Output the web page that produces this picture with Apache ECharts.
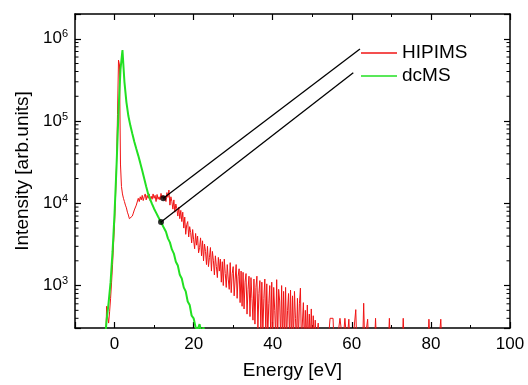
<!DOCTYPE html>
<html><head><meta charset="utf-8">
<script src="https://cdn.jsdelivr.net/npm/echarts@6/dist/echarts.min.js"></script>
<style>html,body{margin:0;padding:0;background:#fff}#c{width:528px;height:385px}</style>
</head><body><div id="c"></div>
<script>
// ---- data ----
const FONT = "'Liberation Sans', Arial, Helvetica, sans-serif";
const seriesNames = ['HIPIMS', 'dcMS'];
// HIPIMS: sampled every 0.25 eV from -2.5 eV to 85.0 eV
const hipimsStart = -2.5, hipimsStep = 0.25;
const hipims = [
  150, 200, 560, 420, 350, 480, 700, 1100, 1800, 3200, 5500, 1.2e4, 3.0e4, 1.2e5, 5.5e5, 4.8e5, 3.0e4, 1.6e4, 1.3e4, 1.15e4,
  1.05e4, 9500, 8800, 7800, 7200, 6500, 6800, 6300, 7000, 7600, 8300, 8000, 9500, 1.0e4, 1.15e4, 1.05e4, 1.2e4, 1.1e4, 1.25e4, 1.08e4,
  1.2e4, 1.3e4, 1.1e4, 1.25e4, 1.15e4, 1.3e4, 1.08e4, 1.22e4, 1.12e4, 1.3e4, 1.15e4, 1.25e4, 1.05e4, 1.28e4, 1.12e4, 1.2e4, 1.1e4, 1.32e4, 1.15e4, 1.25e4,
  1.1e4, 1.22e4, 1.05e4, 1.35e4, 1.18e4, 1.45e4, 9500, 1.2e4, 1.05e4, 8500, 1.1e4, 7800, 9800, 8600, 7000, 9000, 6500, 8200, 6000, 7800,
  5000, 6800, 4200, 5500, 6000, 3900, 5200, 4400, 3300, 4800, 3600, 2800, 4300, 3100, 4000, 2500, 2900, 3800, 2300, 3500,
  2000, 3200, 2600, 1800, 3000, 1700, 2200, 2900, 1500, 2600, 2000, 1350, 2300, 1700, 1250, 2200, 1500, 2100, 1100, 1950,
  1000, 2100, 1400, 950, 1800, 1200, 900, 1900, 820, 1400, 1700, 750, 1200, 1800, 700, 1300, 1600, 620, 1500, 560,
  1450, 520, 1100, 1400, 450, 900, 1300, 420, 1250, 700, 380, 1200, 340, 950, 1300, 300, 800, 1150, 280, 1100,
  260, 700, 1200, 250, 1050, 240, 600, 1000, 230, 1100, 220, 950, 500, 240, 1180, 220, 900, 650, 230, 1000,
  210, 850, 220, 950, 210, 500, 800, 220, 880, 200, 750, 210, 850, 400, 200, 700, 220, 600, 930, 200,
  200, 620, 200, 500, 200, 580, 200, 450, 200, 520, 200, 430, 200, 380, 200, 200, 350, 200, 200, 200,
  200, 200, 200, 200, 200, 200, 200, 200, 400, 400, 400, 400, 200, 200, 200, 200, 200, 200, 400, 400,
  400, 200, 200, 400, 400, 200, 200, 390, 200, 200, 200, 200, 200, 200, 510, 200, 200, 200, 200, 200,
  200, 200, 610, 200, 200, 200, 390, 200, 200, 200, 200, 200, 200, 200, 400, 200, 200, 200, 200, 200,
  200, 200, 200, 200, 200, 200, 200, 200, 400, 200, 200, 200, 200, 200, 200, 200, 200, 200, 200, 200,
  200, 200, 400, 200, 200, 200, 200, 200, 200, 200, 200, 200, 200, 200, 200, 200, 200, 200, 200, 200,
  200, 200, 200, 200, 200, 200, 200, 200, 390, 200, 200, 200, 200, 200, 200, 200, 200, 200, 200, 200,
  390, 200, 200, 200, 200, 200, 200, 200, 200, 200, 200
];
// dcMS: sampled every 0.5 eV from -2.5 eV to 24.5 eV
const dcmsStart = -2.5, dcmsStep = 0.5;
const dcms = [
  200, 380, 620, 1100, 2600, 7500, 2.8e4, 1.3e5, 4.2e5, 7.3e5,
  3.0e5, 1.7e5, 1.15e5, 8.8e4, 7.0e4, 5.6e4, 4.6e4, 3.8e4, 3.1e4, 2.5e4,
  2.0e4, 1.6e4, 1.3e4, 1.12e4, 9800, 8600, 7700, 6900, 6200, 5600,
  5000, 4500, 3750, 3350, 2750, 2450, 1950, 1750, 1350, 1220,
  950, 850, 640, 580, 430, 400, 310, 290, 340, 260,
  310, 240, 290, 200, 200
];
// annotation pointers: [point on curve, end next to legend]
const pointerHipims = [[12.33, 1.15e4], [62.06, 7.5e5]];
const pointerDcms = [[11.75, 5930], [60.37, 3.87e5]];
// axes
const xMin = -10, xMax = 100;
const yMin = 305, yMax = 2.0e6;
const yTickExponents = [3, 4, 5, 6];
const yMinorTicks = [400, 500, 600, 700, 800, 900,
  2000, 3000, 4000, 5000, 6000, 7000, 8000, 9000,
  2e4, 3e4, 4e4, 5e4, 6e4, 7e4, 8e4, 9e4,
  2e5, 3e5, 4e5, 5e5, 6e5, 7e5, 8e5, 9e5];

const toPairs = (arr, start, step) => arr.map((v, i) => [start + i * step, v]);

const chart = echarts.init(document.getElementById('c'), null, {renderer: 'canvas'});
const axisLine = {show: true, onZero: false, lineStyle: {color: '#000', width: 1.5}};
const tick = {show: true, inside: true, length: 6, lineStyle: {color: '#000', width: 1.2}};
const minor = {show: true, splitNumber: 2, length: 3, lineStyle: {color: '#000', width: 1}};

const option = {
  animation: false,
  backgroundColor: '#fff',
  grid: {left: 75, right: 18, top: 14, bottom: 53},
  legend: {
    data: seriesNames, orient: 'vertical', left: 356, top: 38,
    icon: 'rect', itemWidth: 36, itemHeight: 1.5, itemGap: 3,
    textStyle: {fontSize: 19, color: '#000', fontFamily: FONT, lineHeight: 20}
  },
  xAxis: [{
    type: 'value', min: xMin, max: xMax, splitNumber: 5, position: 'bottom',
    axisLine, axisTick: tick, minorTick: minor,
    splitLine: {show: false}, minorSplitLine: {show: false},
    axisLabel: {color: '#000', fontSize: 17, margin: 8, fontFamily: FONT,
      formatter: v => (v % 20 === 0 ? String(v) : '')},
    name: 'Energy [eV]', nameLocation: 'middle', nameGap: 33,
    nameTextStyle: {fontSize: 19, color: '#000', fontFamily: FONT}
  }, {
    type: 'value', min: xMin, max: xMax, splitNumber: 5, position: 'top',
    axisLine, axisTick: tick, minorTick: minor,
    splitLine: {show: false}, axisLabel: {show: false}
  }],
  yAxis: [{
    type: 'log', logBase: 10, min: yMin, max: yMax, position: 'left',
    axisLine, axisTick: tick, splitLine: {show: false},
    axisLabel: {
      margin: 7, color: '#000', fontFamily: FONT,
      formatter: v => {
        const l = Math.log10(v), e = Math.round(l);
        if (Math.abs(l - e) > 1e-6 || yTickExponents.indexOf(e) < 0) return '';
        return '{b|10}{s|' + e + '}';
      },
      rich: {
        b: {fontSize: 17, color: '#000', fontFamily: FONT, lineHeight: 20},
        s: {fontSize: 11, color: '#000', fontFamily: FONT, verticalAlign: 'top', lineHeight: 20}
      }
    },
    name: 'Intensity [arb.units]', nameLocation: 'middle', nameGap: 42,
    nameTextStyle: {fontSize: 19, color: '#000', fontFamily: FONT}
  }, {
    type: 'log', logBase: 10, min: yMin, max: yMax, position: 'right',
    axisLine, axisTick: tick, splitLine: {show: false}, axisLabel: {show: false}
  }],
  series: [
    {
      name: 'HIPIMS', type: 'line', data: toPairs(hipims, hipimsStart, hipimsStep), symbol: 'none',
      lineStyle: {color: '#f01414', width: 1}, itemStyle: {color: '#f01414'},
      clip: true, z: 2
    },
    {
      name: 'dcMS', type: 'line', data: toPairs(dcms, dcmsStart, dcmsStep), symbol: 'none',
      lineStyle: {color: '#22e022', width: 2}, itemStyle: {color: '#22e022'},
      clip: true, z: 3
    },
    {
      name: 'ptrH', type: 'line', data: pointerHipims, symbol: 'none',
      lineStyle: {color: '#000', width: 1.3}, z: 4, silent: true
    },
    {
      name: 'ptrD', type: 'line', data: pointerDcms, symbol: 'none',
      lineStyle: {color: '#000', width: 1.3}, z: 4, silent: true
    },
    {
      name: 'dots', type: 'scatter', data: [pointerHipims[0], pointerDcms[0]],
      symbol: 'circle', symbolSize: 6, itemStyle: {color: '#000'}, z: 5, silent: true
    },
    {
      name: 'yMinor', type: 'custom', silent: true, z: 6,
      data: yMinorTicks.map(v => [xMin, v]),
      renderItem: (params, api) => {
        const y = api.coord([xMin, api.value(1)])[1];
        const l = params.coordSys.x, r = l + params.coordSys.width;
        const st = {stroke: '#000', lineWidth: 1};
        return {type: 'group', children: [
          {type: 'line', shape: {x1: l, y1: y, x2: l + 3.5, y2: y}, style: st},
          {type: 'line', shape: {x1: r - 3.5, y1: y, x2: r, y2: y}, style: st}
        ]};
      }
    }
  ]
};
chart.setOption(option);
</script>
</body></html>
